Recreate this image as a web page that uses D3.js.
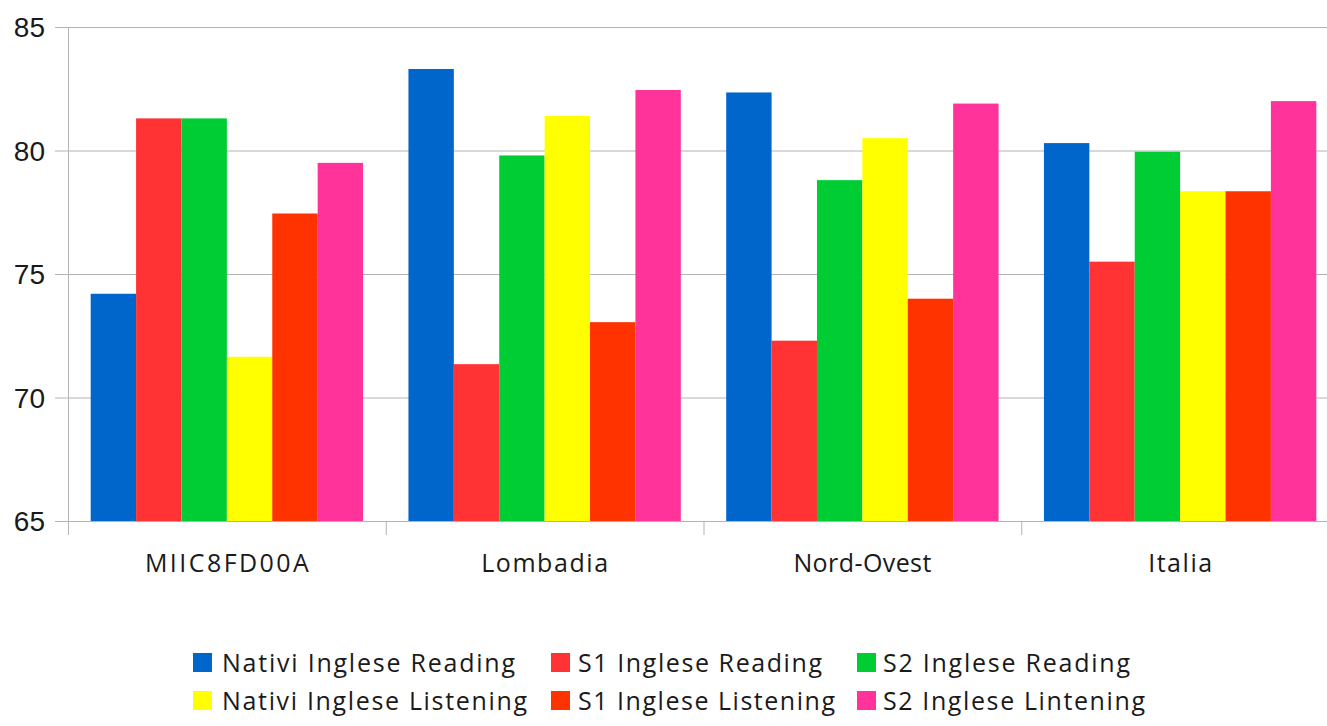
<!DOCTYPE html>
<html>
<head>
<meta charset="utf-8">
<script src="https://cdn.jsdelivr.net/npm/d3@7"></script>
<style>
  html, body { margin: 0; padding: 0; background: #ffffff; }
  svg { display: block; }
</style>
</head>
<body>
<svg id="chart" width="1327" height="726"></svg>
<script>
const categories = ["MIIC8FD00A", "Lombadia", "Nord-Ovest", "Italia"];
const seriesNames = [
  "Nativi Inglese Reading", "S1 Inglese Reading", "S2 Inglese Reading",
  "Nativi Inglese Listening", "S1 Inglese Listening", "S2 Inglese Lintening"
];
const seriesColors = ["#0066cc", "#ff3333", "#00cc33", "#ffff00", "#ff3300", "#ff3399"];
const nativiReading    = [74.2, 83.3, 82.35, 80.3];
const s1Reading        = [81.3, 71.35, 72.3, 75.5];
const s2Reading        = [81.3, 79.8, 78.8, 79.95];
const nativiListening  = [71.65, 81.4, 80.5, 78.35];
const s1Listening      = [77.45, 73.05, 74.0, 78.35];
const s2Lintening      = [79.5, 82.45, 81.9, 82.0];
const yTicks = [65, 70, 75, 80, 85];

const seriesValues = [nativiReading, s1Reading, s2Reading, nativiListening, s1Listening, s2Lintening];

const catLabelWidths = [164, 127, 138, 64];
const legendTextWidths = [293, 244, 247, 305, 257, 262];

const svg = d3.select("#chart");
const pLeft = 68, pRight = 1339, pTop = 27, pBottom = 521;

const y = d3.scaleLinear().domain([65, 85]).range([pBottom, pTop]);
const x0 = d3.scaleBand().domain(categories).range([pLeft, pRight]).paddingInner(0).paddingOuter(0);
const x1 = d3.scaleBand().domain(d3.range(seriesNames.length)).range([0, x0.bandwidth()]).paddingInner(0).paddingOuter(0.5);

const grid = "#b3b3b3";
const textColor = "#1a1a1a";

// gridlines
svg.append("g").selectAll("line").data(yTicks).join("line")
  .attr("x1", pLeft - 13).attr("x2", 1327)
  .attr("y1", d => y(d) + 0.5).attr("y2", d => y(d) + 0.5)
  .attr("stroke", grid).attr("stroke-width", 1);

// y labels
svg.append("g").selectAll("text").data(yTicks).join("text")
  .attr("x", 45).attr("y", d => y(d))
  .attr("dy", "0.36em")
  .attr("text-anchor", "end")
  .attr("font-family", "Liberation Sans, Arial, sans-serif")
  .attr("font-size", 28)
  .attr("fill", textColor)
  .text(d => d);

// bars
const g = svg.append("g");
categories.forEach((c, ci) => {
  seriesValues.forEach((vals, si) => {
    g.append("rect")
      .attr("x", x0(c) + x1(si))
      .attr("y", y(vals[ci]))
      .attr("width", x1.bandwidth())
      .attr("height", y(65) - y(vals[ci]))
      .attr("fill", seriesColors[si]);
  });
});

// y axis line
svg.append("line")
  .attr("x1", pLeft + 0.5).attr("x2", pLeft + 0.5)
  .attr("y1", pTop).attr("y2", pBottom + 14)
  .attr("stroke", grid).attr("stroke-width", 1);

// category separators
svg.append("g").selectAll("line").data(categories.slice(1)).join("line")
  .attr("x1", d => x0(d) + 0.5).attr("x2", d => x0(d) + 0.5)
  .attr("y1", pBottom).attr("y2", pBottom + 14)
  .attr("stroke", grid).attr("stroke-width", 1);

// x labels
svg.append("g").selectAll("text").data(categories).join("text")
  .attr("x", (d, i) => x0(d) + x0.bandwidth() / 2 - catLabelWidths[i] / 2)
  .attr("y", 572)
  .attr("font-family", "Open Sans, sans-serif")
  .attr("font-size", 25)
  .attr("textLength", (d, i) => catLabelWidths[i])
  .attr("lengthAdjust", "spacing")
  .attr("fill", textColor)
  .text(d => d);

// legend
const legCols = [193, 551, 857];
const legTextOffset = [29, 27, 26];
const legRows = [672, 710];
seriesNames.forEach((name, i) => {
  const col = i % 3, row = Math.floor(i / 3);
  const lg = svg.append("g");
  lg.append("rect")
    .attr("x", legCols[col]).attr("y", legRows[row] - 19)
    .attr("width", 19).attr("height", 19)
    .attr("fill", seriesColors[i]);
  lg.append("text")
    .attr("x", legCols[col] + legTextOffset[col]).attr("y", legRows[row])
    .attr("font-family", "Open Sans, sans-serif")
    .attr("font-size", 25)
    .attr("textLength", legendTextWidths[i])
    .attr("lengthAdjust", "spacing")
    .attr("fill", textColor)
    .text(name);
});
</script>
</body>
</html>
